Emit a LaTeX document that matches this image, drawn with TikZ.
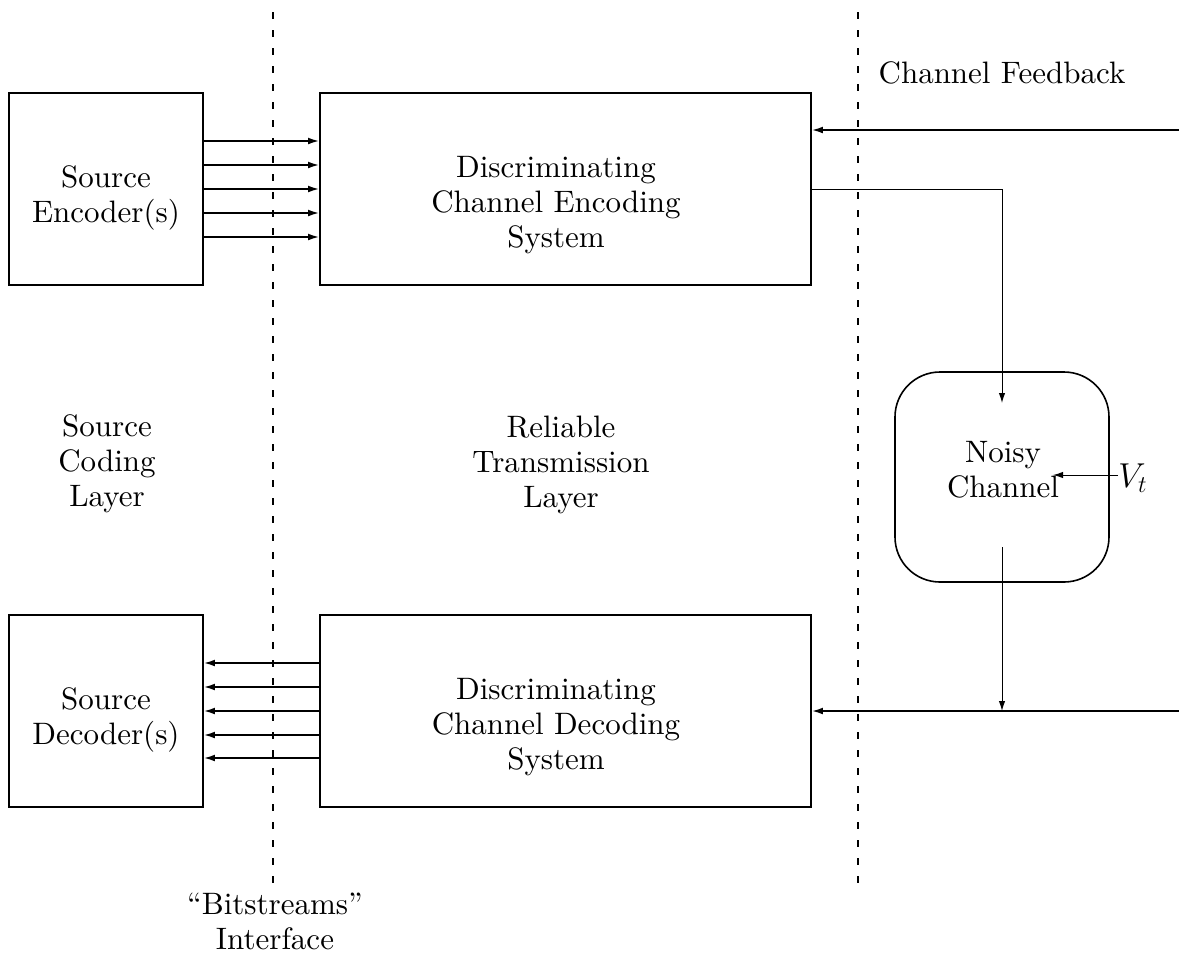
\documentclass[tikz,border=0pt]{standalone}
\usepackage{fontspec}
\setmainfont{lmroman10-regular}[Extension=.otf]
\usetikzlibrary{arrows.meta}
\begin{document}
\begin{tikzpicture}[x=0.5pt,y=-0.5pt,
  lbl/.style={align=center,inner sep=0pt,font=\fontsize{15.5pt}{17.5pt}\selectfont},
  blk/.style={draw,line width=0.9pt,inner sep=0pt,minimum width=#1,minimum height=96pt},
  chanbox/.style={draw,line width=0.8pt,inner sep=0pt,minimum width=107pt,minimum height=105pt,rounded corners=22.5pt},
  arr/.style={line width=0.8pt,-{Latex[length=5.5pt,width=3.4pt]}},
  thinarr/.style={line width=0.5pt,-{Latex[length=5pt,width=3.2pt]}},
  divider/.style={line width=0.8pt,dash pattern=on 3.5pt off 5.5pt}]
\useasboundingbox (0,0) rectangle (1179,966);

% layer boundaries
\draw[divider] (273,12) -- (273,890);
\draw[divider] (858,12) -- (858,890);

% blocks
\node[blk=97pt]    (srcenc) at (106,189) {};
\node[blk=245.5pt] (chenc)  at (565.5,189) {};
\node[blk=97pt]    (srcdec) at (106,711) {};
\node[blk=245.5pt] (chdec)  at (565.5,711) {};
\node[chanbox]     (noisy)  at (1002,477) {};

% block labels
\node[lbl] (lsrcenc) at (106,198.4) {Source\\Encoder(s)};
\node[lbl] (lchenc)  at (556,205.4) {Discriminating\\Channel Encoding\\System};
\node[lbl] (lsrcdec) at (106,720.4) {Source\\Decoder(s)};
\node[lbl] (lchdec)  at (556,727.4) {Discriminating\\Channel Decoding\\System};
\node[lbl] (lnoisy)  at (1003,469.5) {Noisy\\Channel};

% layer and interface labels
\node[lbl] (lscl) at (107,464) {Source\\Coding\\Layer};
\node[lbl] (lrtl) at (561,465) {Reliable\\Transmission\\Layer};
\node[lbl] (lfb)  at (1002,73) {Channel Feedback};
\node[lbl] (lbits) at (275,921.5) {``Bitstreams''\\Interface};
\node[lbl,anchor=west,font=\fontsize{16.5pt}{18pt}\selectfont] (vt) at (1118,478) {$V_t$};

% bitstreams between source coding and channel coding
\foreach \y in {141,165,189,213,237}
  \draw[arr] (srcenc.east |- 0,\y) -- (chenc.west |- 0,\y);
\foreach \y in {663,687,711,735,758}
  \draw[arr] (chdec.west |- 0,\y) -- (srcdec.east |- 0,\y);

% channel path
\coordinate (fbin)   at (1179,130);
\coordinate (chin)   at (1002,403);
\coordinate (chout)  at (1002,547);
\coordinate (decin)  at (1179,711);
\coordinate (vtend)  at (1053,475);
\draw[arr] (fbin) -- (chenc.east |- fbin);
\draw[thinarr] (chenc.east) -| (chin);
\draw[thinarr] (chout) -- (chout |- decin);
\draw[arr] (decin) -- (chdec.east |- decin);
\draw[thinarr] (vt.west |- vtend) -- (vtend);
\end{tikzpicture}
\end{document}
